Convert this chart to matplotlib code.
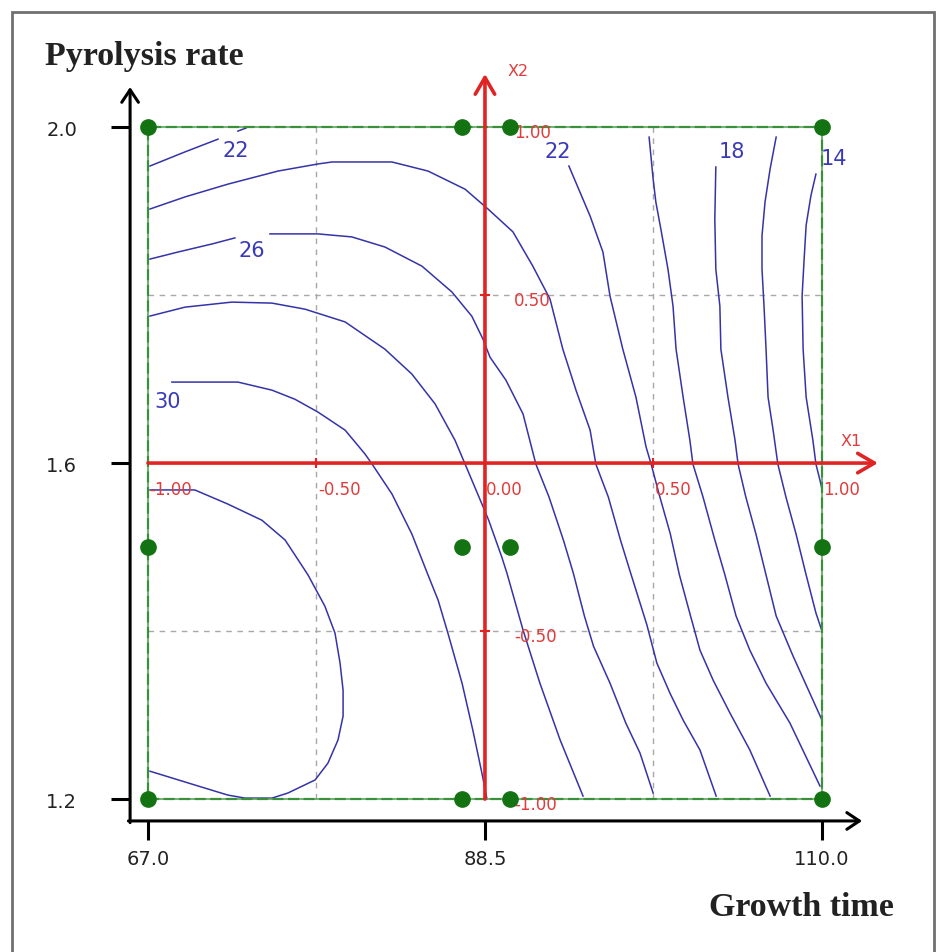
import matplotlib
matplotlib.use('Agg')
import matplotlib.pyplot as plt
from matplotlib.patches import Rectangle

# natural-unit tick labels on the black axes (coded -1, 0, 1)
time_ticks = [-1, 0, 1]
time_labels = ['67.0', '88.5', '110.0']
rate_ticks = [-1, 0, 1]
rate_labels = ['1.2', '1.6', '2.0']

# coded X1 / X2 axis labels
x1_ticks = [-1.0, -0.5, 0.0, 0.5, 1.0]
x1_labels = ['-1.00', '-0.50', '0.00', '0.50', '1.00']
x2_ticks = [1.0, 0.5, -0.5, -1.0]
x2_labels = ['1.00', '0.50', '-0.50', '-1.00']

# design points (coded)
design_x1 = [-1, -0.068, 0.074, 1, -1, -0.068, 0.074, 1, -1, -0.068, 0.074, 1]
design_x2 = [1, 1, 1, 1, -0.25, -0.25, -0.25, -0.25, -1, -1, -1, -1]

# contour lines (coded X1, X2)
c14_x = [0.982, 0.967, 0.953, 0.947, 0.941, 0.944, 0.953, 0.973, 0.982, 0.994, 1.0]
c14_y = [0.860, 0.795, 0.708, 0.607, 0.497, 0.339, 0.196, 0.068, -0.003, -0.051, -0.077]

c16_x = [0.864, 0.846, 0.831, 0.822, 0.822, 0.828, 0.834, 0.840, 0.855, 0.869, 0.893, 0.923, 0.953, 0.982, 1.0]
c16_y = [0.970, 0.875, 0.777, 0.676, 0.577, 0.467, 0.339, 0.196, 0.098, -0.003, -0.101, -0.211, -0.333, -0.446, -0.500]

c18_x = [0.685, 0.682, 0.685, 0.697, 0.700, 0.721, 0.742, 0.751, 0.774, 0.804, 0.834, 0.864, 0.914, 0.964, 1.0]
c18_y = [0.881, 0.726, 0.577, 0.467, 0.339, 0.196, 0.068, -0.003, -0.101, -0.211, -0.333, -0.455, -0.574, -0.685, -0.765]

c20_x = [0.487, 0.499, 0.507, 0.522, 0.543, 0.558, 0.567, 0.588, 0.608, 0.617, 0.647, 0.682, 0.712, 0.745, 0.786, 0.834, 0.905, 0.994]
c20_y = [0.970, 0.845, 0.777, 0.696, 0.577, 0.467, 0.339, 0.196, 0.068, -0.003, -0.101, -0.229, -0.333, -0.455, -0.557, -0.655, -0.774, -0.961]

c22_left_x = [-0.994, -0.890, -0.792]
c22_left_y = [0.884, 0.926, 0.964]
c22_bit_x = [-0.733, -0.709]
c22_bit_y = [0.988, 0.997]
c22_x = [0.249, 0.312, 0.350, 0.371, 0.409, 0.448, 0.478, 0.493, 0.519, 0.550, 0.577, 0.610, 0.638, 0.677, 0.727, 0.786, 0.846]
c22_y = [0.884, 0.735, 0.628, 0.497, 0.339, 0.196, 0.048, -0.003, -0.101, -0.211, -0.333, -0.455, -0.557, -0.646, -0.744, -0.854, -0.991]

c24_x = [-0.994, -0.890, -0.763, -0.614, -0.496, -0.454, -0.276, -0.169, -0.059, 0.009, 0.083, 0.142, 0.193,
         0.231, 0.270, 0.312, 0.329, 0.366, 0.402, 0.434, 0.480, 0.510, 0.549, 0.588, 0.638, 0.686]
c24_y = [0.756, 0.792, 0.830, 0.869, 0.890, 0.896, 0.896, 0.869, 0.815, 0.756, 0.688, 0.586, 0.488,
         0.339, 0.217, 0.098, -0.003, -0.101, -0.229, -0.333, -0.480, -0.595, -0.685, -0.765, -0.854, -0.991]

c26_left_x = [-0.994, -0.911, -0.810, -0.742]
c26_left_y = [0.607, 0.628, 0.652, 0.670]
c26_x = [-0.638, -0.496, -0.395, -0.297, -0.187, -0.098, -0.039, -0.006, 0.015, 0.062, 0.113, 0.151, 0.190,
         0.233, 0.262, 0.295, 0.322, 0.371, 0.418, 0.460, 0.499]
c26_y = [0.682, 0.682, 0.673, 0.643, 0.586, 0.509, 0.437, 0.369, 0.315, 0.247, 0.146, -0.003, -0.101,
         -0.230, -0.327, -0.455, -0.545, -0.655, -0.774, -0.863, -0.982]

c28_x = [-0.994, -0.890, -0.751, -0.632, -0.534, -0.415, -0.297, -0.217, -0.148, -0.089, -0.059, -0.009,
         0.011, 0.050, 0.065, 0.113, 0.163, 0.223, 0.291]
c28_y = [0.4375, 0.464, 0.479, 0.476, 0.458, 0.420, 0.339, 0.265, 0.176, 0.068, -0.003, -0.122,
         -0.170, -0.280, -0.327, -0.497, -0.655, -0.824, -0.991]

c30_x = [-0.929, -0.733, -0.632, -0.564, -0.496, -0.415, -0.356, -0.335, -0.276, -0.217, -0.169, -0.139,
         -0.110, -0.068, -0.036, -0.009, 0.006]
c30_y = [0.241, 0.241, 0.217, 0.190, 0.152, 0.098, 0.027, -0.003, -0.092, -0.211, -0.333, -0.408,
         -0.506, -0.655, -0.795, -0.923, -1.0]

c32_x = [-0.994, -0.861, -0.763, -0.662, -0.593, -0.525, -0.475, -0.445, -0.430, -0.421, -0.421, -0.436,
         -0.466, -0.504, -0.585, -0.632, -0.712, -0.763, -0.861, -0.994]
c32_y = [-0.080, -0.080, -0.122, -0.170, -0.229, -0.333, -0.426, -0.506, -0.595, -0.676, -0.753, -0.824,
         -0.893, -0.943, -0.982, -0.997, -0.997, -0.988, -0.958, -0.917]

# contour value labels and where they sit
label_text = ['22', '22', '18', '14', '26', '30']
label_x = [-0.740, 0.215, 0.734, 1.036, -0.693, -0.942]
label_y = [0.932, 0.930, 0.930, 0.908, 0.634, 0.185]

lines = [(c14_x, c14_y), (c16_x, c16_y), (c18_x, c18_y), (c20_x, c20_y),
         (c22_left_x, c22_left_y), (c22_bit_x, c22_bit_y), (c22_x, c22_y),
         (c24_x, c24_y), (c26_left_x, c26_left_y), (c26_x, c26_y),
         (c28_x, c28_y), (c30_x, c30_y), (c32_x, c32_y)]

BLUE = '#3434a8'
RED = '#e02424'
GREEN = '#3a8f3a'
DOT = '#137313'

fig = plt.figure(figsize=(9.45, 9.53), dpi=100)
ax = fig.add_axes([0, 0, 1, 1])
ax.set_xlim(-1.439, 1.365)
ax.set_ylim(-1.455, 1.381)

# black axes with ticks
for s in ['top', 'right']:
    ax.spines[s].set_visible(False)
ax.spines['left'].set_position(('data', -1.053))
ax.spines['bottom'].set_position(('data', -1.065))
ax.spines['left'].set_visible(False)
ax.spines['bottom'].set_visible(False)
ax.set_xticks(time_ticks, time_labels)
ax.set_yticks(rate_ticks, rate_labels)
ax.tick_params(axis='x', direction='out', length=14, width=2.2, pad=6, labelsize=14, labelcolor='#222222')
ax.tick_params(axis='y', direction='out', length=14, width=2.2, pad=24, labelsize=14, labelcolor='#222222')

head_k = dict(arrowstyle='->,head_length=0.45,head_width=0.3', color='black', lw=2.2,
              mutation_scale=20, shrinkA=0, shrinkB=0)
ax.annotate('', xy=(-1.053, 1.119), xytext=(-1.053, -1.07), arrowprops=head_k)
ax.annotate('', xy=(1.119, -1.065), xytext=(-1.058, -1.065), arrowprops=head_k)

# grid
ax.vlines([-0.5, 0.5], -1, 1, colors='#a8a8a8', linestyles=(0, (4, 4)), lw=1, zorder=1)
ax.hlines([-0.5, 0.5], -1, 1, colors='#a8a8a8', linestyles=(0, (4, 4)), lw=1, zorder=1)

# contour lines
for xs, ys in lines:
    ax.plot(xs, ys, color=BLUE, lw=1.1, zorder=2, solid_joinstyle='round')

for t, x, y in zip(label_text, label_x, label_y):
    ax.text(x, y, t, color='#3a3ab8', fontsize=15, ha='center', va='center', zorder=5)

# design region border
ax.plot([-1, 1, 1, -1, -1], [-1, -1, 1, 1, -1], color='#5aa55a', lw=1.2, zorder=3)
ax.plot([-1, 1, 1, -1, -1], [-1, -1, 1, 1, -1], color=GREEN, lw=1.6, ls=(0, (5, 2)), zorder=3)

# red coded axes
red_k = dict(arrowstyle='->,head_length=0.6,head_width=0.35', color=RED, lw=2.6,
             mutation_scale=20, shrinkA=0, shrinkB=0)
ax.annotate('', xy=(1.166, 0), xytext=(-1, 0), arrowprops=red_k, zorder=4)
ax.annotate('', xy=(0, 1.158), xytext=(0, -1), arrowprops=red_k, zorder=4)
ax.plot([-0.5, 0.5], [0, 0], ls='none', marker='|', ms=7, mew=1.5, color=RED, zorder=4)
ax.plot([0, 0], [-0.5, 0.5], ls='none', marker='_', ms=7, mew=1.5, color=RED, zorder=4)

for t, lab in zip(x1_ticks, x1_labels):
    ax.text(t + 0.004, -0.077, lab, color='#e03c3c', fontsize=12, ha='left', va='center', zorder=5)
for t, lab in zip(x2_ticks, x2_labels):
    ax.text(0.086, t - 0.015, lab, color='#e03c3c', fontsize=12, ha='left', va='center', zorder=5)
ax.text(1.086, 0.068, 'X1', color='#e03c3c', fontsize=11.5, ha='center', va='center')
ax.text(0.098, 1.167, 'X2', color='#e03c3c', fontsize=11.5, ha='center', va='center')

# design points
ax.plot(design_x1, design_x2, 'o', color=DOT, ms=11, zorder=6)

# titles
fig.text(45 / 945, 1 - 57 / 953, 'Pyrolysis rate', ha='left', va='center', fontsize=24.5,
         fontweight='bold', family='Liberation Serif', color='#222222')
fig.text(801 / 945, 1 - 908 / 953, 'Growth time', ha='center', va='center', fontsize=24.5,
         fontweight='bold', family='Liberation Serif', color='#222222')

# outer frame
fig.add_artist(Rectangle((12 / 945, -0.01), (934 - 12) / 945, 1 - 13 / 953 + 0.01,
                         transform=fig.transFigure, fill=False, edgecolor='#707070', lw=2))

fig.savefig('out.png', dpi=100)
